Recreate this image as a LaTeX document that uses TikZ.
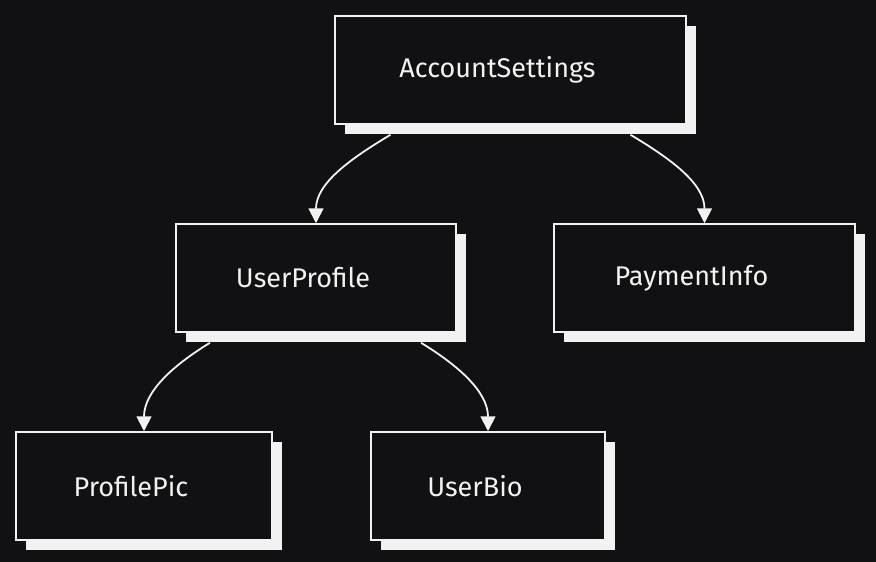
\documentclass[tikz,border=0pt]{standalone}
\usepackage{fontspec}
\setmainfont{Fira Sans}
\usetikzlibrary{arrows.meta,shadows,calc}

\definecolor{bgdark}{RGB}{17,17,19}
\definecolor{inkwhite}{RGB}{242,242,242}
\newcommand{\boxtext}[1]{#1\hspace*{26pt}}

\begin{document}
\begin{tikzpicture}[x=1pt, y=-1pt,
    box/.style={draw=inkwhite, line width=1.5pt, fill=bgdark, text=inkwhite,
        minimum height=108pt, font=\fontsize{27}{32}\selectfont,
        drop shadow={shadow xshift=10pt, shadow yshift=-10pt, fill=inkwhite, opacity=1}},
    link/.style={draw=inkwhite, line width=1.8pt, -{Triangle[length=15pt, width=15pt]}}]
    \useasboundingbox (0,0) rectangle (876,562);
    \fill [bgdark] (0,0) rectangle (876,562);

    \node [box, minimum width=351pt] (acct) at (510.5,70) {\boxtext{AccountSettings}};
    \node [box, minimum width=280pt] (prof) at (316,278) {\boxtext{UserProfile}};
    \node [box, minimum width=301pt] (pay) at (704.5,278) {\boxtext{PaymentInfo}};
    \node [box, minimum width=256pt] (pic) at (144,486) {\boxtext{ProfilePic}};
    \node [box, minimum width=234pt] (bio) at (488,486) {\boxtext{UserBio}};

    \draw [link] ($(acct.south)+(-120,10)$) .. controls +(-40,24) and +(0,-40) .. (prof.north);
    \draw [link] ($(acct.south)+(120,10)$) .. controls +(40,24) and +(0,-40) .. (pay.north);
    \draw [link] ($(prof.south)+(-106,10)$) .. controls +(-36,22) and +(0,-40) .. (pic.north);
    \draw [link] ($(prof.south)+(105,10)$) .. controls +(36,22) and +(0,-40) .. (bio.north);
\end{tikzpicture}
\end{document}
